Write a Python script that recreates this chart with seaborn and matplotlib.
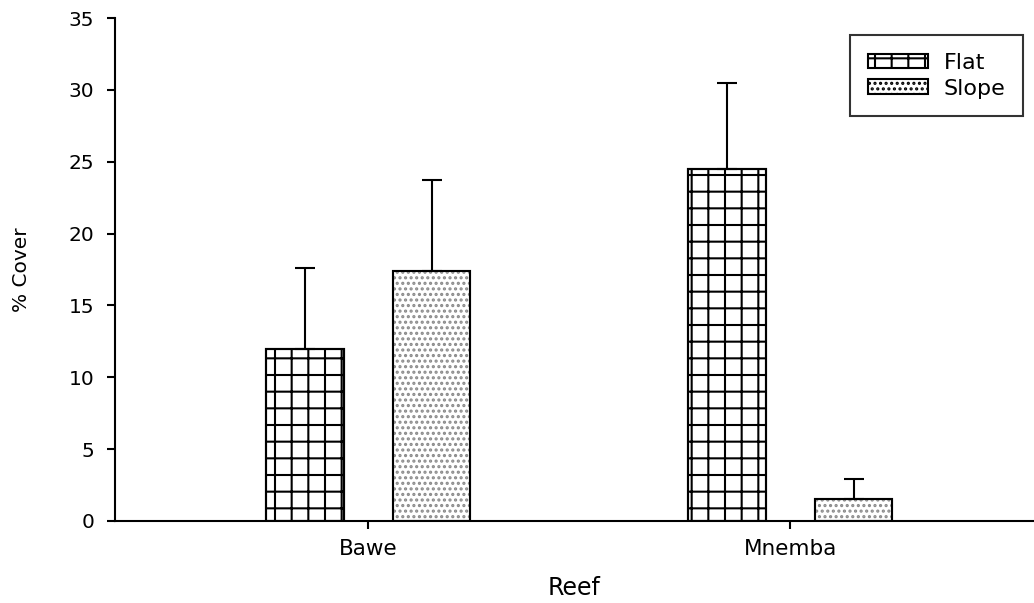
import matplotlib
matplotlib.use("Agg")
import matplotlib.pyplot as plt
from matplotlib.patches import Rectangle
import seaborn as sns
import pandas as pd
import numpy as np

reefs = ["Bawe", "Mnemba"]
zones = ["Flat", "Slope"]
flat_mean = [12.0, 24.5]
slope_mean = [17.4, 1.5]
flat_err = [5.6, 6.0]
slope_err = [6.3, 1.45]
y_ticks = [0, 5, 10, 15, 20, 25, 30, 35]

sns.set_style("ticks")
plt.rcParams['font.family'] = ['DejaVu Sans']
plt.rcParams['hatch.linewidth'] = 1.5
plt.rcParams['text.color'] = 'black'
plt.rcParams['axes.labelcolor'] = 'black'
plt.rcParams['xtick.color'] = 'black'
plt.rcParams['ytick.color'] = 'black'

df = pd.DataFrame({
    "Reef": reefs * 2,
    "Zone": ["Flat"] * 2 + ["Slope"] * 2,
    "Cover": flat_mean + slope_mean,
})
errs = {"Flat": flat_err, "Slope": slope_err}

fig = plt.figure(figsize=(10.34, 6.03), dpi=100)
ax = fig.add_axes([0.1112, 0.136, 0.8888, 0.834])

sns.barplot(data=df, x="Reef", y="Cover", hue="Zone", order=reefs, hue_order=zones,
            palette=["white", "white"], width=0.6, gap=0.39, errorbar=None,
            edgecolor="black", linewidth=1.5, ax=ax, legend=True)

hatches = {"Flat": "+", "Slope": "..."}
hatch_cols = {"Flat": "black", "Slope": "#8a8a8a"}
for cont, zone in zip(ax.containers, zones):
    xs, ys = [], []
    for bar in cont:
        bar.set_hatch(hatches[zone])
        bar.set_edgecolor(hatch_cols[zone])
        ax.add_patch(Rectangle((bar.get_x(), bar.get_y()), bar.get_width(), bar.get_height(),
                               fill=False, edgecolor="black", linewidth=1.5, zorder=bar.get_zorder() + 0.1))
        xs.append(bar.get_x() + bar.get_width() / 2)
        ys.append(bar.get_height())
    e = errs[zone]
    ax.errorbar(xs, ys, yerr=[np.zeros(len(e)), e], fmt="none", ecolor="black",
                elinewidth=1.5, capsize=7.2, capthick=1.5, zorder=1)

ax.set_xlim(-0.6, 1.577)
ax.set_ylim(0, 35)
ax.set_yticks(y_ticks)
ax.spines["top"].set_visible(False)
ax.spines["right"].set_visible(False)
for s in ["left", "bottom"]:
    ax.spines[s].set_linewidth(1.5)
    ax.spines[s].set_color("black")
ax.tick_params(axis="both", direction="out", length=6, width=1.5, colors="black")
ax.tick_params(axis="y", pad=9, labelsize=14.5)
ax.tick_params(axis="x", pad=7, labelsize=15.5)
ax.set_xlabel("Reef", fontsize=17, labelpad=12, color="black")
ax.set_ylabel("% Cover", fontsize=14.5, labelpad=27, color="black")

leg = ax.legend(title=None, loc="upper right", bbox_to_anchor=(0.988, 0.966), borderaxespad=0,
                fontsize=16, frameon=True, fancybox=False, edgecolor="black", handlelength=2.7,
                handleheight=0.63, borderpad=0.8, labelspacing=0.25, handletextpad=0.7)
leg.get_frame().set_linewidth(1.5)
for t in leg.get_texts():
    t.set_color("black")
for h, zone in zip(leg.legend_handles, zones):
    h.set_hatch(hatches[zone])
    h.set_edgecolor("black")
    h.set_facecolor("white")

fig.savefig("out.png", dpi=100)
